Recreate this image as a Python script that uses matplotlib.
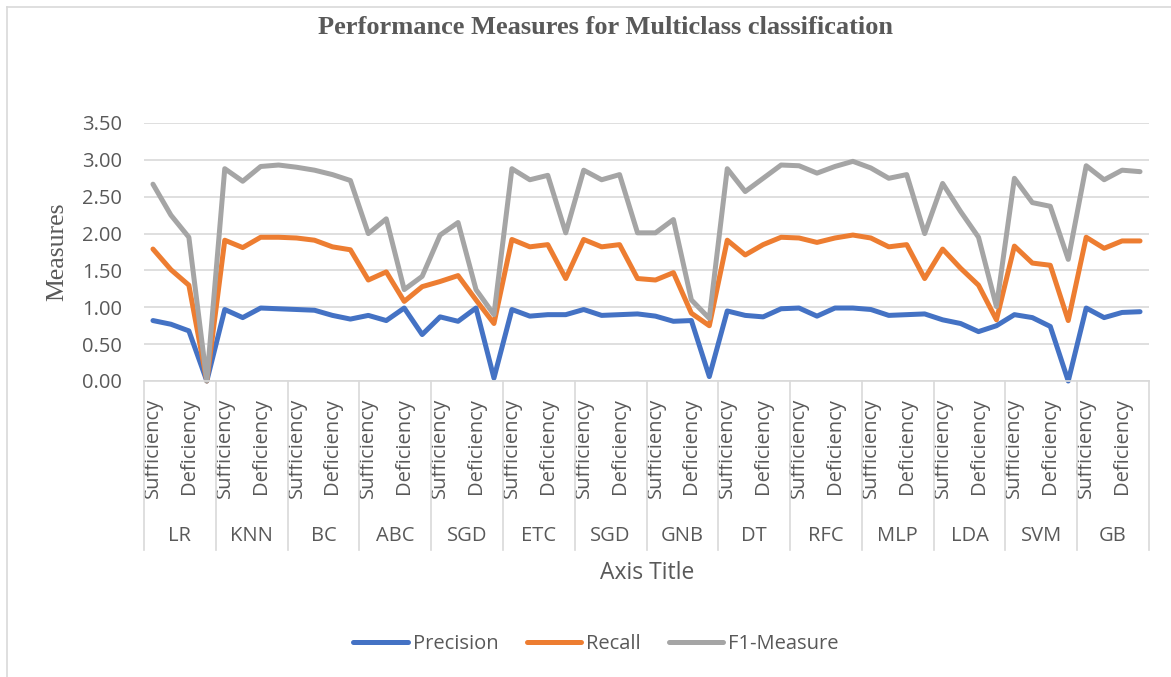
import matplotlib.pyplot as plt
import matplotlib.transforms as mtransforms
from matplotlib.lines import Line2D
import numpy as np

# classifiers on the outer category axis (4 points each)
groups = ["LR", "KNN", "BC", "ABC", "SGD", "ETC", "SGD", "GNB",
          "DT", "RFC", "MLP", "LDA", "SVM", "GB"]
# inner labels, Excel only shows every other one
inner_labels = ["Sufficiency", "", "Deficiency", ""]

# levels as drawn in the chart (stacked line: each series sits on the one below)
precision = [0.82, 0.77, 0.68, 0.00,  0.97, 0.86, 0.99, 0.98,
             0.97, 0.96, 0.89, 0.84,  0.89, 0.82, 0.99, 0.63,
             0.87, 0.81, 0.99, 0.04,  0.97, 0.88, 0.90, 0.90,
             0.97, 0.89, 0.90, 0.91,  0.88, 0.81, 0.82, 0.06,
             0.95, 0.89, 0.87, 0.98,  0.99, 0.88, 0.99, 0.99,
             0.97, 0.89, 0.90, 0.91,  0.83, 0.78, 0.67, 0.75,
             0.90, 0.86, 0.74, 0.00,  0.99, 0.86, 0.93, 0.94]
recall = [1.79, 1.51, 1.30, 0.00,  1.91, 1.81, 1.95, 1.95,
          1.94, 1.91, 1.82, 1.78,  1.37, 1.48, 1.08, 1.28,
          1.35, 1.43, 1.10, 0.78,  1.92, 1.82, 1.85, 1.39,
          1.92, 1.82, 1.85, 1.39,  1.37, 1.47, 0.92, 0.75,
          1.91, 1.71, 1.85, 1.95,  1.94, 1.88, 1.94, 1.98,
          1.94, 1.82, 1.85, 1.39,  1.79, 1.53, 1.30, 0.83,
          1.83, 1.60, 1.57, 0.82,  1.95, 1.80, 1.90, 1.90]
f1_measure = [2.67, 2.25, 1.95, 0.00,  2.88, 2.71, 2.91, 2.93,
              2.90, 2.86, 2.80, 2.72,  2.00, 2.20, 1.24, 1.42,
              1.98, 2.15, 1.24, 0.90,  2.88, 2.73, 2.79, 2.01,
              2.86, 2.73, 2.80, 2.01,  2.01, 2.19, 1.10, 0.85,
              2.88, 2.57, 2.75, 2.93,  2.92, 2.82, 2.91, 2.98,
              2.89, 2.75, 2.80, 2.00,  2.68, 2.30, 1.95, 1.01,
              2.75, 2.42, 2.37, 1.65,  2.92, 2.73, 2.86, 2.84]

series_names = ["Precision", "Recall", "F1-Measure"]
colors = ["#4472C4", "#ED7D31", "#A5A5A5"]

SANS = ["Open Sans", "DejaVu Sans"]
SERIF = ["Liberation Serif", "DejaVu Serif"]
TXT = "#595959"
GRID = "#D9D9D9"

W, H = 1171, 677
fig = plt.figure(figsize=(W / 100, H / 100), dpi=100)

# plot area in pixels: x 144..1149, y 123..381
ax = fig.add_axes([144 / W, (H - 381) / H, (1149 - 144) / W, (381 - 123) / H])

n = len(precision)
x = np.arange(n)
for vals, name, c in zip([precision, recall, f1_measure], series_names, colors):
    ax.plot(x, vals, color=c, lw=3.6, label=name,
            solid_joinstyle="round", solid_capstyle="round", clip_on=False)

ax.set_xlim(-0.5, n - 0.5)
ax.set_ylim(0, 3.5)
ax.set_yticks(np.arange(0, 3.51, 0.5))
ax.set_yticklabels([f"{v:.2f}" for v in np.arange(0, 3.51, 0.5)],
                   family=SANS, fontsize=14.5, color=TXT)
ax.grid(axis="y", color=GRID, lw=1.2)
ax.set_axisbelow(True)
ax.tick_params(axis="y", length=0, pad=16)

# inner category labels
tick_pos = [i for i in range(n) if inner_labels[i % 4]]
ax.set_xticks(tick_pos)
ax.set_xticklabels([inner_labels[i % 4] for i in tick_pos], rotation=90,
                   family=SANS, fontsize=14.5, color=TXT, va="top")
ax.tick_params(axis="x", length=0, pad=12)

for s in ["top", "right", "left"]:
    ax.spines[s].set_visible(False)
ax.spines["bottom"].set_color(GRID)
ax.spines["bottom"].set_linewidth(1.2)

# group separators and outer labels
trans = mtransforms.blended_transform_factory(ax.transData, ax.transAxes)
ph = 381 - 123
for k in range(len(groups) + 1):
    ax.add_line(Line2D([4 * k - 0.5] * 2, [0, -(550 - 381) / ph], transform=trans,
                       color=GRID, lw=1.2, clip_on=False))
for k, g in enumerate(groups):
    ax.text(4 * k + 1.5, -(536 - 381) / ph, g, transform=trans, ha="center",
            va="center", family=SANS, fontsize=14.5, color=TXT)

# titles
fig.text(605 / W, 1 - 28 / H, "Performance Measures for Multiclass classification",
         ha="center", va="center", family=SERIF, fontweight="bold", fontsize=19,
         color=TXT)
fig.text(57 / W, 1 - 252 / H, "Measures", rotation=90, ha="center", va="center",
         family=SERIF, fontsize=18.5, color=TXT)
fig.text(647 / W, 1 - 573 / H, "Axis Title", ha="center", va="center",
         family=SANS, fontsize=16.5, color=TXT)

handles = [Line2D([], [], color=c, lw=3.6, solid_capstyle="round") for c in colors]
fig.legend(handles, series_names, loc="center", bbox_to_anchor=(596 / W, 1 - 644 / H),
           ncol=3, frameon=False, handlelength=2.7, handletextpad=0.25,
           columnspacing=1.4, prop={"family": SANS, "size": 14.5}, labelcolor=TXT)

# light chart border (top and left visible in the source)
fig.add_artist(Line2D([7 / W, 1.0], [1 - 7 / H] * 2, transform=fig.transFigure,
                      color=GRID, lw=1.2))
fig.add_artist(Line2D([7 / W] * 2, [0, 1 - 7 / H], transform=fig.transFigure,
                      color=GRID, lw=1.2))

fig.savefig("out.png", dpi=100)
